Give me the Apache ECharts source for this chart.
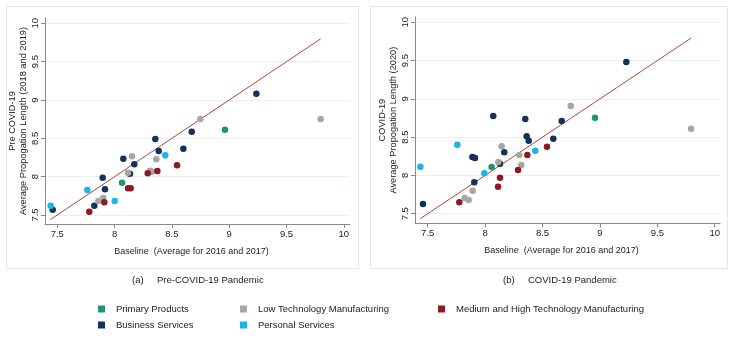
<!DOCTYPE html>
<html>
<head>
<meta charset="utf-8">
<script src="https://cdn.jsdelivr.net/npm/echarts@6/dist/echarts.min.js"></script>
<style>
  html, body { margin: 0; padding: 0; background: #fff; }
  #chart { width: 730px; height: 338px; }
</style>
</head>
<body>
<div id="chart"></div>
<script>
// ---- Data (x = baseline avg 2016/2017, y = average propagation length) ----
var categories = ['Primary Products', 'Business Services', 'Low Technology Manufacturing',
                  'Medium and High Technology Manufacturing', 'Personal Services'];
var tickValues = [7.5, 8, 8.5, 9, 9.5, 10];

// Panel (a): Pre-COVID-19 (2018 and 2019)
var primaryPre  = [[8.065,7.921],[8.963,8.613]];
var businessPre = [[7.460,7.569],[7.896,7.987],[7.916,7.835],[7.823,7.621],[8.076,8.234],[8.172,8.161],
                   [8.134,8.039],[8.355,8.491],[8.385,8.335],[8.600,8.365],[8.673,8.587],[9.237,9.082]];
var lowTechPre  = [[7.858,7.683],[7.901,7.722],[8.152,8.266],[8.117,8.052],[8.309,8.078],[8.326,8.065],
                   [8.364,8.226],[8.748,8.752],[9.798,8.752]];
var medHighPre  = [[7.910,7.665],[7.779,7.543],[8.117,7.848],[8.140,7.848],[8.289,8.044],[8.373,8.074],[8.545,8.148]];
var personalPre = [[7.442,7.621],[7.762,7.826],[8.001,7.683],[8.442,8.279]];

// Panel (b): COVID-19 (2020)
var primaryCov  = [[8.057,8.110],[8.957,8.754]];
var businessCov = [[7.459,7.627],[7.889,8.241],[7.912,8.228],[7.906,7.910],[8.071,8.776],[8.167,8.302],
                   [8.130,8.153],[8.350,8.737],[8.362,8.511],[8.380,8.454],[8.594,8.480],[8.667,8.711],[9.230,9.481]];
var lowTechCov  = [[7.892,7.800],[7.822,7.705],[7.857,7.679],[8.144,8.380],[8.115,8.175],[8.298,8.267],
                   [8.315,8.136],[8.746,8.907],[9.794,8.610]];
var medHighCov  = [[7.775,7.649],[8.113,7.853],[8.130,7.970],[8.287,8.071],[8.368,8.267],[8.539,8.375]];
var personalCov = [[7.436,8.114],[7.758,8.401],[7.993,8.028],[8.437,8.323]];

var colors = ['#1f9470', '#14315a', '#a9a5a1', '#8c1a20', '#1ab4e6'];
var lineColor = '#a8474c';
var font = "'Liberation Sans', Arial, sans-serif";

var preSets = [primaryPre, businessPre, lowTechPre, medHighPre, personalPre];
var covSets = [primaryCov, businessCov, lowTechCov, medHighCov, personalCov];

function diagLine(sets) {
  var xs = [];
  sets.forEach(function (s) { s.forEach(function (p) { xs.push(p[0]); }); });
  var lo = Math.min.apply(null, xs), hi = Math.max.apply(null, xs);
  return [[lo, lo], [hi, hi]];
}

function xAxisCfg(idx, min, max) {
  return {
    type: 'value', gridIndex: idx, min: min, max: max,
    name: 'Baseline  (Average for 2016 and 2017)', nameLocation: 'middle', nameGap: 23,
    nameTextStyle: { fontFamily: font, fontSize: 9, color: '#222', padding: [0, 12, 0, 0] },
    axisLine: { show: true, lineStyle: { color: '#8a8a8a', width: 1 } },
    axisTick: { show: true, length: 4, customValues: tickValues, lineStyle: { color: '#8a8a8a' } },
    axisLabel: { customValues: tickValues, margin: 5, fontFamily: font, fontSize: 9.5, color: '#222',
                 formatter: function (v) { return String(+v.toFixed(1)); } },
    splitLine: { show: false }
  };
}
function yAxisCfg(idx, min, max, name, gap) {
  return {
    type: 'value', gridIndex: idx, min: min, max: max,
    name: name, nameLocation: 'middle', nameGap: gap,
    nameTextStyle: { fontFamily: font, fontSize: 9.25, color: '#222', lineHeight: 11 },
    axisLine: { show: true, lineStyle: { color: '#8a8a8a', width: 1 } },
    axisTick: { show: true, length: 4, customValues: tickValues, lineStyle: { color: '#8a8a8a' } },
    axisLabel: { customValues: tickValues, rotate: 90, margin: 5, fontFamily: font, fontSize: 9.5, color: '#222',
                 formatter: function (v) { return String(+v.toFixed(1)); } },
    splitLine: { show: true, lineStyle: { color: '#eaf0f1', width: 1 } }
  };
}

var series = [];
[0, 1].forEach(function (g) {
  var sets = g === 0 ? preSets : covSets;
  series.push({
    type: 'line', xAxisIndex: g, yAxisIndex: g, data: diagLine(sets),
    symbol: 'none', silent: true, lineStyle: { color: lineColor, width: 1 }, z: 1
  });
  sets.forEach(function (s, i) {
    series.push({
      name: categories[i], type: 'scatter', xAxisIndex: g, yAxisIndex: g, data: s,
      symbolSize: 6.5, itemStyle: { color: colors[i], opacity: 1 }, z: 2
    });
  });
});

function legendCfg(left, names) {
  return {
    left: left, top: 303, orient: 'vertical', itemWidth: 7, itemHeight: 7, itemGap: 4,
    icon: 'rect', padding: 0, data: names,
    textStyle: { fontFamily: font, fontSize: 9.5, color: '#222', lineHeight: 12, padding: [0, 0, 0, 6] }
  };
}

var option = {
  animation: false,
  backgroundColor: '#fff',
  color: colors,
  grid: [
    { left: 45, top: 18, width: 305, height: 206 },
    { left: 415, top: 17, width: 305, height: 206.3 }
  ],
  xAxis: [xAxisCfg(0, 7.3927, 10.054), xAxisCfg(1, 7.3894, 10.046)],
  yAxis: [
    yAxisCfg(0, 7.3826, 10.0695, 'Pre COVID-19\nAverage Propogation Length (2018 and 2019)', 14),
    yAxisCfg(1, 7.3746, 10.069, 'COVID-19\nAverage Propogation Length (2020)', 15)
  ],
  legend: [
    legendCfg(98, [categories[0], categories[1]]),
    legendCfg(240, [categories[2], categories[4]]),
    legendCfg(438, [categories[3]])
  ],
  graphic: [
    { type: 'rect', shape: { x: 6.5, y: 6.5, width: 352, height: 262 }, silent: true,
      style: { fill: 'none', stroke: '#e6e6e6', lineWidth: 1 }, z: -10 },
    { type: 'rect', shape: { x: 370.5, y: 6.5, width: 357, height: 262 }, silent: true,
      style: { fill: 'none', stroke: '#e6e6e6', lineWidth: 1 }, z: -10 },
    { type: 'text', left: 132, top: 275, style: { text: '(a)', font: '9.5px ' + font, fill: '#222' } },
    { type: 'text', left: 157, top: 275, style: { text: 'Pre-COVID-19 Pandemic', font: '9.5px ' + font, fill: '#222' } },
    { type: 'text', left: 503, top: 275, style: { text: '(b)', font: '9.5px ' + font, fill: '#222' } },
    { type: 'text', left: 528, top: 275, style: { text: 'COVID-19 Pandemic', font: '9.5px ' + font, fill: '#222' } }
  ],
  series: series
};

var chart = echarts.init(document.getElementById('chart'), null, { renderer: 'canvas' });
chart.setOption(option);
</script>
</body>
</html>
